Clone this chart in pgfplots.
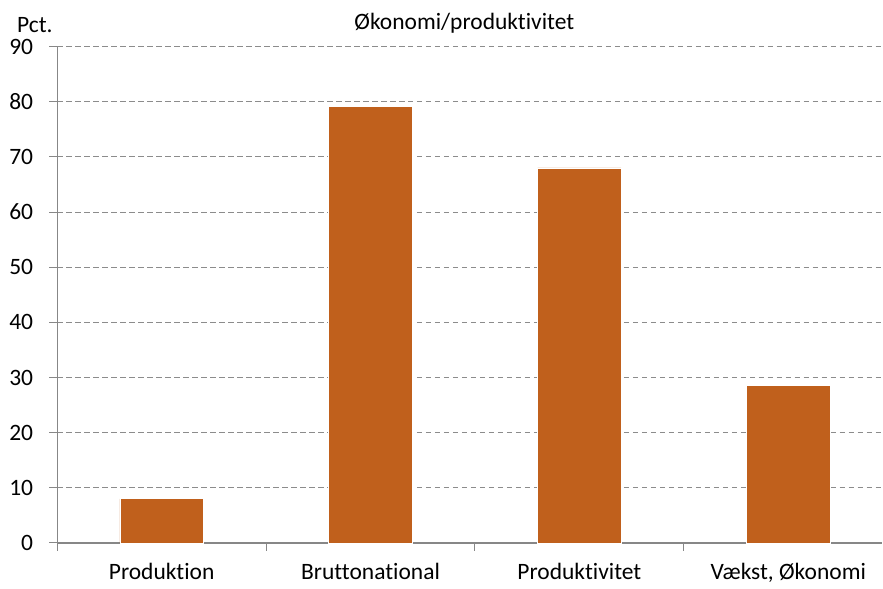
\documentclass[border=0pt]{standalone}
\usepackage{pgfplots}
\pgfplotsset{compat=1.18}
\usepackage{fontspec}
\setmainfont{Carlito}[Ligatures=NoCommon]
\definecolor{barc}{HTML}{C0601C}
\definecolor{gridc}{HTML}{8C8C8C}
\definecolor{axc}{HTML}{878787}
\begin{document}
\begin{tikzpicture}
\fontsize{23.5bp}{28bp}\selectfont
\begin{axis}[
  at={(0,0)}, anchor=south west,
  scale only axis,
  width=825.7bp, height=496.6bp,
  xmin=-0.5, xmax=3.4507,
  ymin=0, ymax=90,
  ytick={0,10,...,90},
  xtick={-0.5,0.5,1.5,2.5},
  xticklabels={},
  extra x ticks={0,1,2,3},
  extra x tick labels={Produktion,Bruttonational,Produktivitet,{Vækst, Økonomi}},
  extra x tick style={major tick length=0pt, grid=none},
  axis x line*=bottom, axis y line*=left,
  axis line style={axc, line width=1.3bp},
  tick align=outside,
  major tick length=8bp,
  tick style={axc, line width=1bp},
  ymajorgrids,
  major grid style={gridc, line width=0.9bp, dash pattern=on 5.5bp off 3.5bp},
  /pgf/number format/assume math mode=true,
  ticklabel style={font=\fontsize{23.5bp}{28bp}\selectfont},
  yticklabel style={anchor=east, inner sep=0pt, xshift=-16bp},
  xticklabel style={anchor=base, inner sep=0pt, yshift=-37bp},
  clip=false,
]
\addplot[ybar, bar width=83.6bp, fill=barc, draw=white, line width=0.8bp]
  coordinates {(0,8.0) (1,79.2) (2,68.0) (3,28.5)};
\end{axis}
\node[anchor=base west, inner sep=0pt] at (-40.3bp,510.3bp) {Pct.};
\node[anchor=base, inner sep=0pt] at (407.4bp,513.3bp) {Økonomi/produktivitet};
\path[use as bounding box] (-57.3bp,-43.7bp) rectangle (825.7bp,543.3bp);
\end{tikzpicture}
\end{document}
